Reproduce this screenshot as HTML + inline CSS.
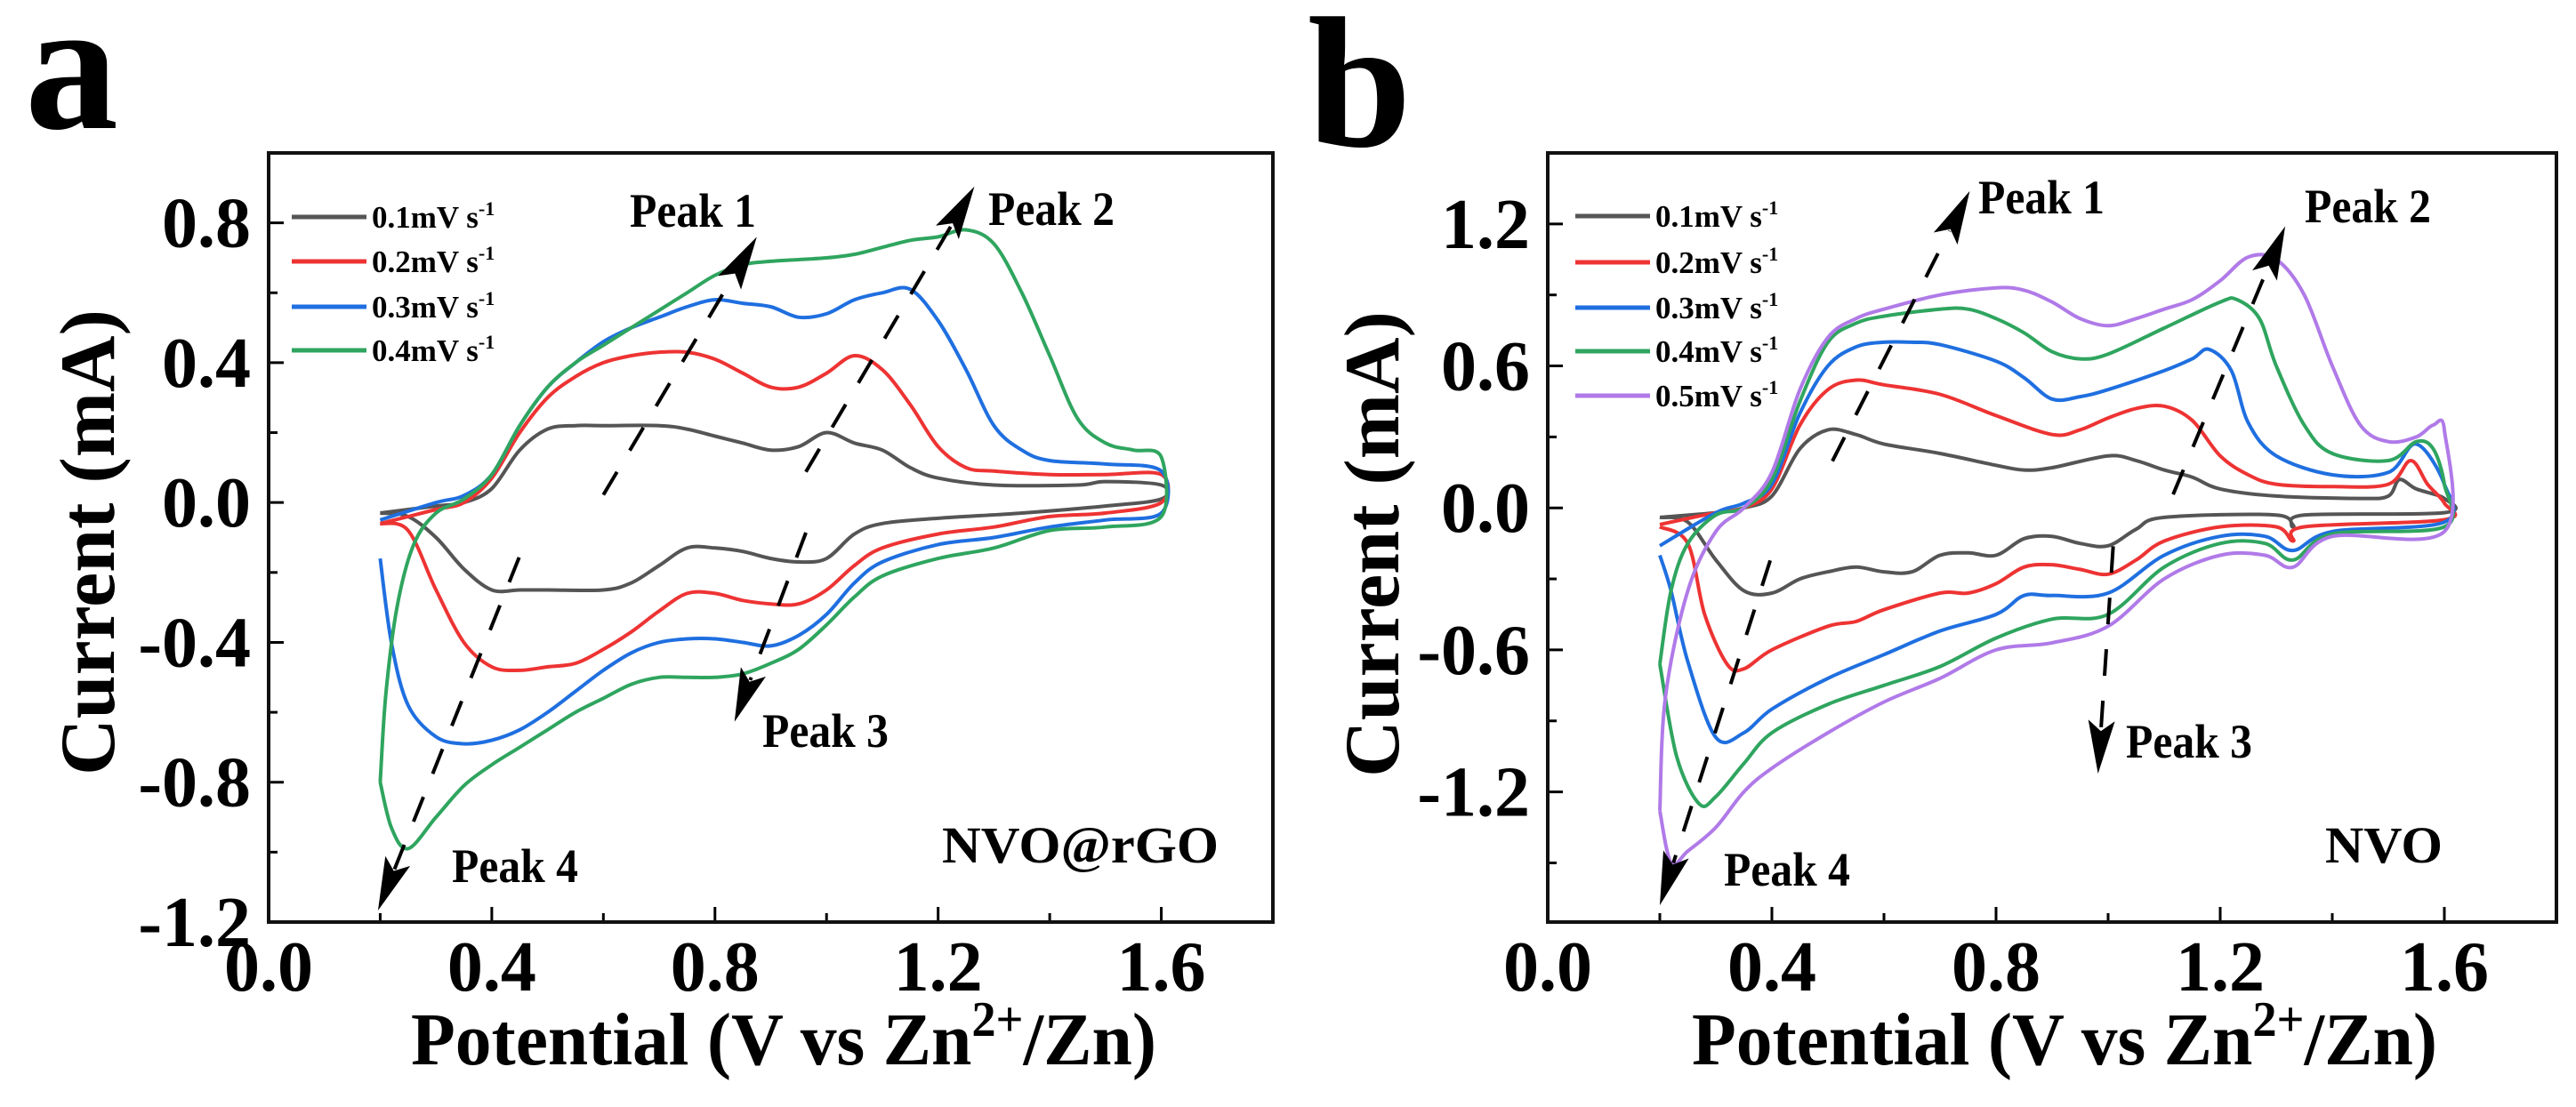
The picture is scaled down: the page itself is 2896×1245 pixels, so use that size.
<!DOCTYPE html>
<html><head><meta charset="utf-8"><style>
html,body{margin:0;padding:0;background:#fff;}
svg{display:block;}
text{font-family:"Liberation Serif",serif;font-weight:bold;fill:#000;}
</style></head><body>
<svg id="fig" width="2896" height="1245" viewBox="0 0 2896 1245" xmlns="http://www.w3.org/2000/svg"></svg>
<script>
// ---------- Panel a data (NVO@rGO) ----------
const aLabels = ["0.1mV s", "0.2mV s", "0.3mV s", "0.4mV s"];
const aColors = ["#555555", "#ee3333", "#1f6fe0", "#2fa55f"];
const a1x = [0.2,0.3,0.35,0.4,0.45,0.5,0.55,0.6,0.7,0.75,0.8,0.85,0.9,0.95,1.0,1.05,1.1,1.15,1.2,1.3,1.45,1.5,1.6, 1.6,1.5,1.35,1.2,1.1,1.05,1.0,0.95,0.9,0.85,0.8,0.75,0.7,0.65,0.6,0.5,0.45,0.4,0.35,0.3,0.25,0.2];
const a1y = [-0.03,-0.01,0.0,0.04,0.15,0.21,0.22,0.22,0.22,0.21,0.19,0.17,0.15,0.16,0.2,0.17,0.15,0.1,0.07,0.05,0.05,0.06,0.05, 0.01,-0.01,-0.03,-0.045,-0.06,-0.09,-0.16,-0.17,-0.16,-0.14,-0.13,-0.13,-0.18,-0.23,-0.25,-0.25,-0.25,-0.25,-0.19,-0.1,-0.04,-0.03];
const a2x = [0.2,0.3,0.35,0.4,0.45,0.5,0.55,0.6,0.65,0.7,0.75,0.8,0.85,0.9,0.95,1.0,1.05,1.1,1.15,1.2,1.25,1.3,1.4,1.5,1.6, 1.6,1.5,1.4,1.3,1.2,1.1,1.05,1.0,0.95,0.9,0.85,0.8,0.75,0.7,0.65,0.6,0.55,0.5,0.45,0.4,0.35,0.3,0.25,0.2];
const a2y = [-0.06,-0.02,0.0,0.07,0.2,0.3,0.36,0.4,0.42,0.43,0.43,0.41,0.37,0.33,0.33,0.37,0.42,0.38,0.28,0.16,0.1,0.09,0.08,0.08,0.08, 0.0,-0.03,-0.04,-0.07,-0.09,-0.13,-0.18,-0.25,-0.29,-0.29,-0.28,-0.26,-0.26,-0.31,-0.37,-0.42,-0.46,-0.47,-0.48,-0.47,-0.4,-0.25,-0.08,-0.06];
const a3x = [0.2,0.3,0.35,0.4,0.45,0.5,0.55,0.6,0.65,0.7,0.75,0.8,0.85,0.9,0.95,1.0,1.05,1.1,1.15,1.2,1.25,1.3,1.35,1.4,1.5,1.6, 1.6,1.5,1.4,1.3,1.2,1.1,1.05,1.0,0.95,0.9,0.85,0.8,0.75,0.7,0.65,0.6,0.55,0.5,0.45,0.4,0.35,0.3,0.25,0.22,0.2];
const a3y = [-0.05,0.0,0.02,0.08,0.22,0.33,0.4,0.46,0.5,0.53,0.56,0.58,0.57,0.56,0.53,0.54,0.58,0.6,0.61,0.52,0.38,0.22,0.15,0.12,0.11,0.09, -0.03,-0.05,-0.07,-0.1,-0.12,-0.17,-0.23,-0.32,-0.38,-0.41,-0.4,-0.39,-0.39,-0.4,-0.43,-0.48,-0.54,-0.6,-0.65,-0.68,-0.69,-0.67,-0.58,-0.4,-0.16];
const a4x = [0.2,0.21,0.23,0.26,0.3,0.35,0.4,0.45,0.5,0.55,0.6,0.65,0.7,0.75,0.8,0.85,0.9,1.0,1.05,1.1,1.15,1.2,1.25,1.3,1.35,1.4,1.45,1.5,1.55,1.6, 1.6,1.5,1.4,1.3,1.2,1.1,1.05,1.0,0.95,0.9,0.85,0.8,0.75,0.7,0.65,0.6,0.55,0.5,0.45,0.4,0.35,0.3,0.25,0.22,0.2];
const a4y = [-0.8,-0.55,-0.3,-0.12,-0.03,0.01,0.08,0.22,0.33,0.4,0.45,0.5,0.55,0.6,0.65,0.68,0.69,0.7,0.71,0.73,0.75,0.76,0.78,0.74,0.6,0.42,0.24,0.17,0.15,0.13, -0.04,-0.07,-0.08,-0.13,-0.16,-0.21,-0.27,-0.35,-0.42,-0.46,-0.49,-0.5,-0.5,-0.5,-0.52,-0.56,-0.6,-0.65,-0.7,-0.75,-0.81,-0.9,-0.99,-0.93,-0.8];
const aXTicks = [0.0,0.4,0.8,1.2,1.6];
const aYTicks = [0.8,0.4,0.0,-0.4,-0.8,-1.2];
const aArrowStart = [[0.6,0.022],[0.963,0.088],[0.963,-0.086],[0.449,-0.157]];
const aArrowEnd   = [[0.875,0.76],[1.265,0.904],[0.835,-0.627],[0.196,-1.167]];

// ---------- Panel b data (NVO) ----------
const bLabels = ["0.1mV s", "0.2mV s", "0.3mV s", "0.4mV s", "0.5mV s"];
const bColors = ["#555555", "#ee3333", "#1f6fe0", "#2fa55f", "#b07ae8"];
const b1x = [0.2,0.3,0.35,0.4,0.45,0.5,0.55,0.6,0.7,0.8,0.85,0.9,1.0,1.05,1.1,1.15,1.2,1.3,1.45,1.5,1.52,1.55,1.6, 1.6,1.35,1.33,1.3,1.1,1.05,1.0,0.95,0.9,0.85,0.8,0.75,0.7,0.65,0.6,0.55,0.5,0.45,0.4,0.35,0.3,0.25,0.2];
const b1y = [-0.04,-0.02,0.0,0.05,0.25,0.33,0.31,0.27,0.23,0.18,0.16,0.17,0.22,0.2,0.16,0.13,0.08,0.05,0.04,0.05,0.12,0.08,0.04, -0.02,-0.03,-0.08,-0.03,-0.04,-0.09,-0.16,-0.15,-0.12,-0.13,-0.2,-0.19,-0.2,-0.27,-0.27,-0.25,-0.27,-0.3,-0.36,-0.35,-0.22,-0.06,-0.04];
const b2x = [0.2,0.3,0.35,0.4,0.45,0.5,0.55,0.6,0.7,0.8,0.9,0.95,1.0,1.05,1.1,1.15,1.2,1.25,1.3,1.4,1.5,1.54,1.57,1.6, 1.6,1.35,1.33,1.3,1.2,1.1,1.05,1.0,0.95,0.9,0.85,0.8,0.75,0.7,0.6,0.55,0.5,0.4,0.35,0.32,0.28,0.25,0.2];
const b2y = [-0.07,-0.02,0.0,0.08,0.35,0.5,0.54,0.52,0.48,0.39,0.31,0.33,0.38,0.42,0.43,0.37,0.22,0.14,0.1,0.09,0.1,0.2,0.1,0.02, -0.05,-0.08,-0.14,-0.08,-0.08,-0.14,-0.22,-0.28,-0.26,-0.24,-0.25,-0.32,-0.36,-0.36,-0.43,-0.48,-0.5,-0.6,-0.68,-0.66,-0.45,-0.15,-0.08];
const b3x = [0.2,0.3,0.35,0.4,0.45,0.5,0.55,0.6,0.65,0.7,0.8,0.85,0.9,0.95,1.0,1.1,1.15,1.18,1.22,1.25,1.3,1.4,1.5,1.55,1.6, 1.6,1.4,1.33,1.28,1.2,1.1,1.0,0.9,0.85,0.8,0.7,0.6,0.5,0.4,0.35,0.3,0.25,0.22,0.2];
const b3y = [-0.16,-0.02,0.02,0.1,0.4,0.6,0.68,0.7,0.7,0.69,0.62,0.55,0.46,0.47,0.5,0.58,0.63,0.67,0.58,0.36,0.22,0.14,0.15,0.27,0.1, -0.06,-0.1,-0.18,-0.12,-0.12,-0.2,-0.36,-0.37,-0.37,-0.45,-0.52,-0.62,-0.72,-0.85,-0.95,-0.97,-0.65,-0.35,-0.2];
const b4x = [0.2,0.22,0.25,0.3,0.35,0.4,0.45,0.5,0.55,0.6,0.7,0.75,0.8,0.85,0.9,0.95,1.0,1.1,1.2,1.23,1.27,1.3,1.35,1.4,1.5,1.55,1.58,1.6, 1.6,1.4,1.33,1.28,1.2,1.1,1.0,0.9,0.8,0.7,0.6,0.5,0.4,0.35,0.3,0.27,0.23,0.2];
const b4y = [-0.66,-0.35,-0.15,-0.03,0.0,0.12,0.45,0.7,0.78,0.81,0.84,0.84,0.8,0.74,0.66,0.63,0.65,0.76,0.87,0.88,0.8,0.6,0.35,0.23,0.2,0.28,0.25,0.1, -0.08,-0.11,-0.22,-0.15,-0.15,-0.25,-0.45,-0.47,-0.55,-0.67,-0.75,-0.83,-0.95,-1.08,-1.22,-1.25,-1.05,-0.66];
const b5x = [0.2,0.21,0.25,0.3,0.35,0.4,0.45,0.5,0.55,0.6,0.7,0.8,0.85,0.9,0.95,1.0,1.05,1.1,1.15,1.2,1.25,1.3,1.35,1.4,1.45,1.5,1.55,1.58,1.6, 1.6,1.4,1.33,1.28,1.2,1.1,1.0,0.9,0.8,0.7,0.6,0.5,0.4,0.35,0.3,0.25,0.22,0.2];
const b5y = [-1.28,-0.8,-0.35,-0.1,0.0,0.15,0.5,0.72,0.8,0.84,0.9,0.93,0.92,0.87,0.8,0.77,0.8,0.84,0.88,0.96,1.06,1.05,0.9,0.6,0.35,0.28,0.3,0.35,0.33, -0.1,-0.12,-0.25,-0.2,-0.2,-0.3,-0.5,-0.57,-0.6,-0.72,-0.82,-0.95,-1.1,-1.2,-1.35,-1.45,-1.5,-1.28];
const bXTicks = [0.0,0.4,0.8,1.2,1.6];
const bYTicks = [1.2,0.6,0.0,-0.6,-1.2];
const bArrowStart = [[0.508,0.198],[1.116,0.057],[1.009,-0.162],[0.397,-0.222]];
const bArrowEnd   = [[0.753,1.339],[1.316,1.19],[0.982,-1.123],[0.2,-1.679]];

const NS = "http://www.w3.org/2000/svg";
const svg = document.getElementById('fig');
function mk(tag, attrs, parent) {
  const e = document.createElementNS(NS, tag);
  for (const k in attrs) e.setAttribute(k, attrs[k]);
  (parent || svg).appendChild(e);
  return e;
}
function smooth(pts) {
  let d = "M" + pts[0][0].toFixed(1) + "," + pts[0][1].toFixed(1);
  for (let i = 0; i < pts.length - 1; i++) {
    const p0 = pts[Math.max(i - 1, 0)], p1 = pts[i], p2 = pts[i + 1], p3 = pts[Math.min(i + 2, pts.length - 1)];
    const c1 = [p1[0] + (p2[0] - p0[0]) / 6, p1[1] + (p2[1] - p0[1]) / 6];
    const c2 = [p2[0] - (p3[0] - p1[0]) / 6, p2[1] - (p3[1] - p1[1]) / 6];
    d += "C" + c1[0].toFixed(1) + "," + c1[1].toFixed(1) + " " + c2[0].toFixed(1) + "," + c2[1].toFixed(1) + " " + p2[0].toFixed(1) + "," + p2[1].toFixed(1);
  }
  return d;
}

function panel(cfg) {
  const g = mk('g', {});
  
  
  const X = v => cfg.L + (v - cfg.xmin) / (cfg.xmax - cfg.xmin) * (cfg.R - cfg.L);
  const Y = v => cfg.B - (v - cfg.ymin) / (cfg.ymax - cfg.ymin) * (cfg.B - cfg.T);

  for (let v = 0.2; v <= 1.61; v += 0.2) {
    const major = Math.abs((v / 0.4) - Math.round(v / 0.4)) < 0.01;
    const t = mk('line', {x1: X(v), x2: X(v), y1: cfg.B, y2: cfg.B - (major ? 17 : 10), stroke: '#000', 'stroke-width': 3}, g);
    
    
  }
  for (let i = -12; i <= 20; i++) {
    const v = i * cfg.ystep / 2;
    if (v <= cfg.ymin + 0.01 || v >= cfg.ymax - 0.01) continue;
    const major = i % 2 === 0;
    const t = mk('line', {x1: cfg.L, x2: cfg.L + (major ? 17 : 10), y1: Y(v), y2: Y(v), stroke: '#000', 'stroke-width': 3}, g);
    
    
  }
  const fr = mk('rect', {x: cfg.L, y: cfg.T, width: cfg.R - cfg.L, height: cfg.B - cfg.T, fill: 'none', stroke: '#111', 'stroke-width': 4}, g);
  
  

  cfg.xticks.forEach(v => {
    const t = mk('text', {x: X(v), y: 1114, 'font-size': 80, 'text-anchor': 'middle'}, g);
    t.textContent = v.toFixed(1);
    
    
  });
  cfg.yticks.forEach(v => {
    const t = mk('text', {x: cfg.L - 20, y: Y(v) + 27, 'font-size': 80, 'text-anchor': 'end'}, g);
    t.textContent = v.toFixed(1);
    
    
  });
  const yt = mk('text', {x: 0, y: 0, 'font-size': 88, 'text-anchor': 'middle', transform: 'translate(' + cfg.ytx + ',' + cfg.yty + ') rotate(-90)'}, g);
  yt.textContent = 'Current (mA)';
  
  
  const xt = mk('text', {x: cfg.xtx, y: 1197, 'font-size': 84, textLength: 838, lengthAdjust: 'spacingAndGlyphs'}, g);
  xt.innerHTML = 'Potential (V vs Zn<tspan dy="-32" font-size="56">2+</tspan><tspan dy="32">/Zn)</tspan>';
  
  
  const pl = mk('text', {x: cfg.lx, y: cfg.ly, 'font-size': 210}, g);
  pl.textContent = cfg.letter;
  
  

  cfg.series.forEach((s, i) => {
    const pts = s[0].map((x, k) => [X(x), Y(s[1][k])]);
    const p = mk('path', {d: smooth(pts), fill: 'none', stroke: cfg.colors[i], 'stroke-width': 4, 'stroke-linejoin': 'round'}, g);
    
    
  });

  cfg.labels.forEach((lab, i) => {
    const y = cfg.legY[i];
    const l = mk('line', {x1: cfg.legX, x2: cfg.legX + 84, y1: y, y2: y, stroke: cfg.colors[i], 'stroke-width': 5}, g);
    
    
    const t = mk('text', {x: cfg.legX + 90, y: y + 12, 'font-size': 35}, g);
    t.innerHTML = lab + '<tspan dy="-14" font-size="22">-1</tspan>';
    
    
  });

  cfg.arrS.forEach((s, i) => {
    const e = cfg.arrE[i];
    const x1 = X(s[0]), y1 = Y(s[1]), x2 = X(e[0]), y2 = Y(e[1]);
    const dx = x2 - x1, dy = y2 - y1, len = Math.hypot(dx, dy), ux = dx / len, uy = dy / len;
    const hl = 60, hw = 15;
    const bx = x2 - ux * hl, by = y2 - uy * hl;
    const ln = mk('line', {x1: x1, y1: y1, x2: bx + ux * 10, y2: by + uy * 10, stroke: '#000', 'stroke-width': 4, 'stroke-dasharray': '30,28'}, g);
    
    
    const hd = mk('polygon', {points: x2 + ',' + y2 + ' ' + (bx - uy * hw) + ',' + (by + ux * hw) + ' ' + (bx + ux * 12) + ',' + (by + uy * 12) + ' ' + (bx + uy * hw) + ',' + (by - ux * hw), fill: '#000'}, g);
    
    
  });
  cfg.peaks.forEach((p, i) => {
    const t = mk('text', {x: p[0], y: p[1], 'font-size': 54, textLength: 142, lengthAdjust: 'spacingAndGlyphs'}, g);
    t.textContent = 'Peak ' + (i + 1);
    
    
  });
  const sl = mk('text', {x: cfg.sample[0], y: 970, 'font-size': 58, textLength: cfg.sample[2], lengthAdjust: 'spacingAndGlyphs'}, g);
  sl.textContent = cfg.sample[1];
  
  
}

panel({name: 'panel-a', letter: 'a', lx: 28, ly: 144,
  L: 302, R: 1431, T: 172, B: 1037, xmin: 0, xmax: 1.8, ymin: -1.2, ymax: 1.0, ystep: 0.4,
  xticks: aXTicks, yticks: aYTicks, ytx: 128, yty: 610, xtx: 462,
  colors: aColors, labels: aLabels, legX: 328, legY: [244, 294, 345, 394],
  series: [[a1x, a1y], [a2x, a2y], [a3x, a3y], [a4x, a4y]],
  arrS: aArrowStart, arrE: aArrowEnd,
  peaks: [[708, 255], [1111, 253], [857, 840], [508, 992]], sample: [1059, 'NVO@rGO', 311]});

panel({name: 'panel-b', letter: 'b', lx: 1470, ly: 164,
  L: 1740, R: 2874, T: 172, B: 1037, xmin: 0, xmax: 1.8, ymin: -1.75, ymax: 1.5, ystep: 0.6,
  xticks: bXTicks, yticks: bYTicks, ytx: 1572, yty: 612, xtx: 1902,
  colors: bColors, labels: bLabels, legX: 1771, legY: [243, 295, 346, 395, 445],
  series: [[b1x, b1y], [b2x, b2y], [b3x, b3y], [b4x, b4y], [b5x, b5y]],
  arrS: bArrowStart, arrE: bArrowEnd,
  peaks: [[2224, 240], [2591, 250], [2390, 852], [1938, 996]], sample: [2614, 'NVO', 132]});
</script>
</body></html>
